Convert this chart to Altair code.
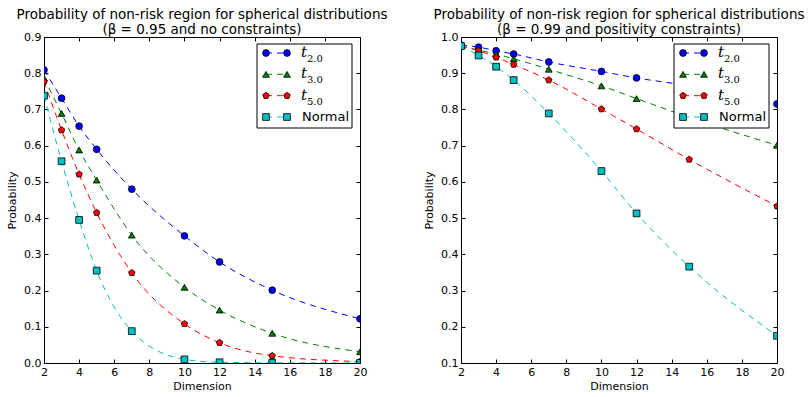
import altair as alt
import pandas as pd

# Dimensions at which the probabilities were evaluated
dims = [2, 3, 4, 5, 7, 10, 12, 15, 20]
series_names = ["t2.0", "t3.0", "t5.0", "Normal"]
series_colors = ["#0000ff", "#008000", "#ff0000", "#00bfbf"]
pentagon = "M0,-1L0.951,-0.309L0.588,0.809L-0.588,0.809L-0.951,-0.309Z"
series_shapes = ["circle", "triangle-up", pentagon, "square"]
series_sizes = [46, 46, 50, 40]

# beta = 0.95, no constraints
left_t2 = [0.809, 0.731, 0.654, 0.590, 0.480, 0.351, 0.279, 0.201, 0.122]
left_t3 = [0.786, 0.689, 0.588, 0.505, 0.353, 0.209, 0.146, 0.082, 0.031]
left_t5 = [0.777, 0.643, 0.521, 0.415, 0.249, 0.108, 0.056, 0.020, 0.004]
left_normal = [0.738, 0.557, 0.395, 0.255, 0.088, 0.010, 0.002, 0.0005, 0.0]

# beta = 0.99, positivity constraints
right_t2 = [0.978, 0.972, 0.962, 0.953, 0.931, 0.905, 0.887, 0.865, 0.815]
right_t3 = [0.975, 0.964, 0.953, 0.940, 0.911, 0.865, 0.830, 0.778, 0.701]
right_t5 = [0.975, 0.962, 0.944, 0.924, 0.881, 0.801, 0.746, 0.662, 0.533]
right_normal = [0.975, 0.949, 0.918, 0.881, 0.789, 0.630, 0.513, 0.366, 0.175]

x_ticks = [2, 4, 6, 8, 10, 12, 14, 16, 18, 20]

FONT = "DejaVu Sans"
W, H = 316, 326


def long_frame(columns):
    rows = []
    for name, vals in zip(series_names, columns):
        for d, v in zip(dims, vals):
            rows.append({"dim": d, "value": v, "series": name})
    return pd.DataFrame(rows)


color_scale = alt.Scale(domain=series_names, range=series_colors)
shape_scale = alt.Scale(domain=series_names, range=series_shapes)
size_scale = alt.Scale(domain=series_names, range=series_sizes)


def axis(orient, title=None, labels=True, values=None, fmt=None, title_pad=3):
    kw = dict(
        orient=orient, offset=-4, tickSize=4, tickColor="black", tickWidth=1,
        domain=False, grid=False, labels=labels, labelFont=FONT, labelFontSize=11,
        labelColor="black", labelPadding=3, labelFlush=False, labelOverlap=False,
        titleFont=FONT, titleFontSize=11, titleFontWeight="normal", titleColor="black",
        titlePadding=title_pad, title=title,
    )
    if values is not None:
        kw["values"] = values
    if fmt is not None:
        kw["format"] = fmt
    return alt.Axis(**kw)


def panel(columns, ydom, yticks, title_lines):
    df = long_frame(columns)
    xs = alt.Scale(domain=[2, 20], nice=False, zero=False)
    ys = alt.Scale(domain=ydom, nice=False, zero=False)

    lines = alt.Chart(df).mark_line(
        strokeDash=[6, 5], strokeWidth=1, interpolate="monotone", clip=True
    ).encode(
        x=alt.X("dim:Q", scale=xs, axis=axis("bottom", "Dimension", values=x_ticks, fmt="d")),
        y=alt.Y("value:Q", scale=ys,
                axis=axis("left", "Probability", values=yticks, fmt=".1f", title_pad=6)),
        color=alt.Color("series:N", scale=color_scale, legend=None),
        detail="series:N",
    )

    points = alt.Chart(df).mark_point(
        filled=True, stroke="black", strokeWidth=0.8, opacity=1, clip=True
    ).encode(
        x=alt.X("dim:Q", scale=xs, axis=None),
        y=alt.Y("value:Q", scale=ys, axis=None),
        color=alt.Color("series:N", scale=color_scale, legend=None),
        shape=alt.Shape("series:N", scale=shape_scale, legend=None),
        size=alt.Size("series:N", scale=size_scale, legend=None),
    )

    mirror = alt.Chart(df).mark_point(opacity=0).encode(
        x=alt.X("dim:Q", scale=xs, axis=axis("top", labels=False, values=x_ticks)),
        y=alt.Y("value:Q", scale=ys, axis=axis("right", labels=False, values=yticks)),
    )

    # legend box in the upper right corner
    leg = pd.DataFrame({"series": series_names, "row": [0, 1, 2, 3]})
    leg_pts = pd.concat([leg.assign(slot=0), leg.assign(slot=1)])
    row_y = alt.Y("row:Q", scale=alt.Scale(domain=[0, 3], range=[16, 80]), axis=None)

    box = alt.Chart(pd.DataFrame({"k": [0]})).mark_rect(
        fill="white", stroke="black", strokeWidth=1
    ).encode(x=alt.value(213), x2=alt.value(308), y=alt.value(7), y2=alt.value(91))

    leg_line = alt.Chart(leg).mark_rule(strokeDash=[6, 5], strokeWidth=1).encode(
        x=alt.value(222), x2=alt.value(243), y=row_y,
        color=alt.Color("series:N", scale=color_scale, legend=None),
    )
    leg_mark = alt.Chart(leg_pts).mark_point(
        filled=True, stroke="black", strokeWidth=0.8, opacity=1
    ).encode(
        x=alt.X("slot:Q", scale=alt.Scale(domain=[0, 1], range=[222, 243]), axis=None),
        y=row_y,
        color=alt.Color("series:N", scale=color_scale, legend=None),
        shape=alt.Shape("series:N", scale=shape_scale, legend=None),
        size=alt.Size("series:N", scale=size_scale, legend=None),
    )
    t_leg = leg[leg.series != "Normal"].assign(
        base="t", sub=lambda d: d.series.str[1:]
    )
    leg_t = alt.Chart(t_leg).mark_text(
        font="DejaVu Serif", fontStyle="italic", fontSize=15, align="left",
        baseline="middle", color="black", dy=-1,
    ).encode(x=alt.value(257), y=row_y, text="base:N")
    leg_sub = alt.Chart(t_leg).mark_text(
        font="DejaVu Serif", fontSize=10, align="left", baseline="middle",
        color="black", dy=6,
    ).encode(x=alt.value(263), y=row_y, text="sub:N")
    leg_norm = alt.Chart(leg[leg.series == "Normal"]).mark_text(
        font=FONT, fontSize=13, align="left", baseline="middle", color="black",
    ).encode(x=alt.value(258), y=row_y, text="series:N")

    return alt.layer(
        lines, points, mirror, box, leg_line, leg_mark, leg_t, leg_sub, leg_norm
    ).resolve_scale(x="independent", y="independent").properties(
        width=W, height=H,
        title=alt.TitleParams(
            text=title_lines, font=FONT, fontSize=13.5, fontWeight="normal",
            color="black", anchor="middle", frame="group", offset=-5, lineHeight=15,
        ),
    )


left = panel(
    [left_t2, left_t3, left_t5, left_normal], [0.0, 0.9],
    [0.0, 0.1, 0.2, 0.3, 0.4, 0.5, 0.6, 0.7, 0.8, 0.9],
    ["Probability of non-risk region for spherical distributions",
     "(β = 0.95 and no constraints)"],
)
right = panel(
    [right_t2, right_t3, right_t5, right_normal], [0.1, 1.0],
    [0.1, 0.2, 0.3, 0.4, 0.5, 0.6, 0.7, 0.8, 0.9, 1.0],
    ["Probability of non-risk region for spherical distributions",
     "(β = 0.99 and positivity constraints)"],
)

chart = alt.hconcat(left, right, spacing=35).properties(
    background="white",
    padding={"left": 6, "top": 7, "right": 0, "bottom": 0},
).configure_view(stroke="black", strokeWidth=1)

chart.save("out.html", embed_options={"renderer": "svg", "actions": False})
